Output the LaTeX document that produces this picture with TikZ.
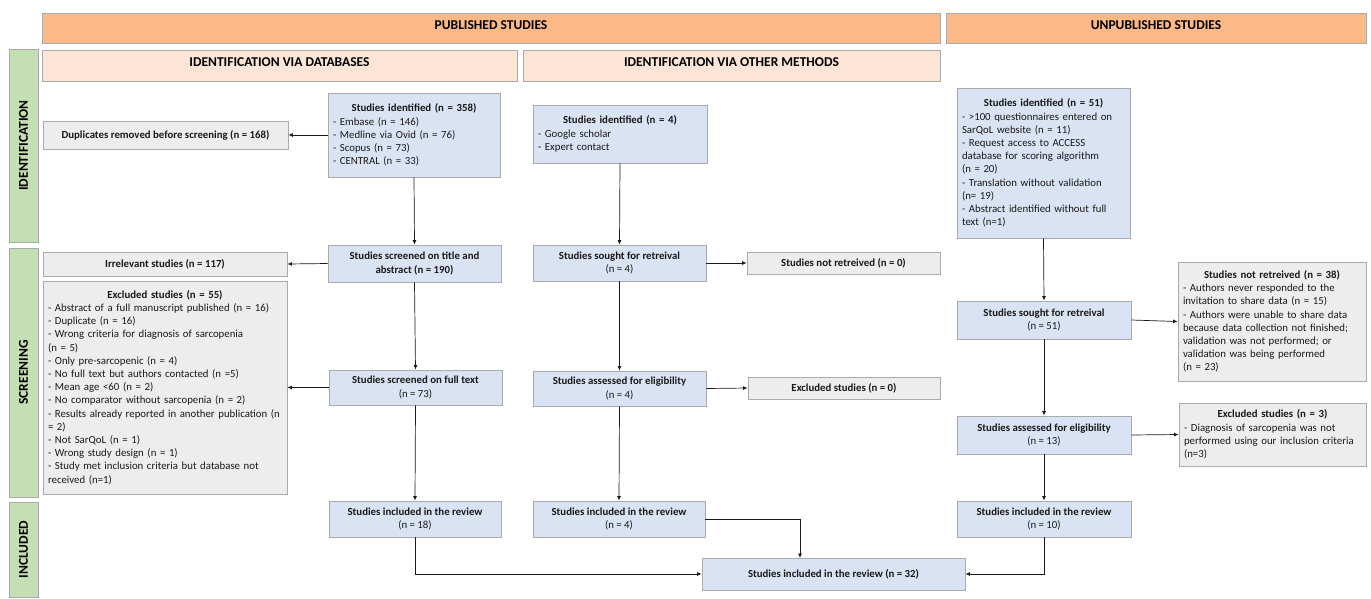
\documentclass[tikz,border=0pt]{standalone}
\usepackage{fontspec}
\setmainfont{Carlito}
\usepackage{tikz}
\usetikzlibrary{arrows.meta}
\definecolor{PrismaOrange}{RGB}{251,185,135}
\definecolor{PrismaPeach}{RGB}{252,228,214}
\definecolor{PrismaGreen}{RGB}{197,223,180}
\definecolor{PrismaBlue}{RGB}{218,227,243}
\definecolor{PrismaGrey}{RGB}{237,237,237}
\definecolor{PrismaRule}{RGB}{170,170,170}
\definecolor{PrismaInk}{RGB}{25,25,25}

\tikzset{
  basebox/.style={
    draw=PrismaRule,
    line width=0.9pt,
    inner xsep=5pt,
    inner ysep=2pt,
    text=PrismaInk,
    align=center,
    font=\fontsize{10.8}{13.2}\selectfont
  },
  boxsize/.style 2 args={minimum width=#1, minimum height=#2},
  studybox/.style={basebox, fill=PrismaBlue},
  dropbox/.style={basebox, fill=PrismaGrey},
  listbox/.style={align=left},
  capbar/.style={
    basebox,
    text=black,
    font=\fontsize{13.5}{15}\selectfont\bfseries
  },
  headbar/.style={capbar, fill=PrismaOrange, text depth=6pt},
  subheadbar/.style={capbar, fill=PrismaPeach, text depth=6pt},
  phasebar/.style={capbar, fill=PrismaGreen, rotate=90},
  flowarrow/.style={
    -{Latex[length=4.5pt,width=4pt]},
    line width=0.7pt,
    draw=PrismaInk
  }
}

\begin{document}
\begin{tikzpicture}[x=1pt,y=-1pt]
\useasboundingbox (0,0) rectangle (1371,598);

\node[headbar, boxsize={898pt}{30pt}] (pub) at (491,28) {PUBLISHED STUDIES};
\node[headbar, boxsize={420pt}{30pt}] (unpub) at (1156,28) {UNPUBLISHED STUDIES};
\node[subheadbar, boxsize={475pt}{31pt}] (viadb) at (279.5,65.5) {IDENTIFICATION VIA DATABASES};
\node[subheadbar, boxsize={417pt}{31pt}] (viaother) at (731.5,65.5) {IDENTIFICATION VIA OTHER METHODS};

\node[phasebar, boxsize={193pt}{29pt}] (phaseid) at (23.5,145.5) {IDENTIFICATION};
\node[phasebar, boxsize={249pt}{29pt}] (phasescr) at (23.5,372.5) {SCREENING};
\node[phasebar, boxsize={95pt}{29pt}] (phaseinc) at (23.5,549.5) {INCLUDED};

\node[studybox, listbox, boxsize={172pt}{84pt}, text width=162pt] (db1) at (414,135)
  {{\centering\bfseries Studies identified (n = 358)\par}- Embase (n = 146)\\- Medline via Ovid (n = 76)\\- Scopus (n = 73)\\- CENTRAL (n = 33)};
\node[dropbox, boxsize={245pt}{28pt}] (dup) at (165.5,135) {\textbf{Duplicates removed before screening (n = 168)}};
\node[studybox, boxsize={173pt}{37pt}] (db2) at (414.5,263.5) {\textbf{Studies screened on title and}\\\textbf{abstract (n = 190)}};
\node[dropbox, boxsize={244pt}{24pt}] (irrel) at (165,264) {\textbf{Irrelevant studies (n = 117)}};
\node[studybox, boxsize={173pt}{35pt}] (db3) at (415.5,387.5) {\textbf{Studies screened on full text}\\(n = 73)};
\node[dropbox, listbox, boxsize={244pt}{213pt}, text width=234pt] (excl55) at (165,387.5)
  {{\centering\bfseries Excluded studies (n = 55)\par}- Abstract of a full manuscript published (n = 16)\\- Duplicate (n = 16)\\- Wrong criteria for diagnosis of sarcopenia\\(n = 5)\\- Only pre-sarcopenic (n = 4)\\- No full text but authors contacted (n =5)\\- Mean age <60 (n = 2)\\- No comparator without sarcopenia (n = 2)\\- Results already reported in another publication (n\\= 2)\\- Not SarQoL (n = 1)\\- Wrong study design (n = 1)\\- Study met inclusion criteria but database not\\received (n=1)};
\node[studybox, boxsize={172pt}{36pt}] (db4) at (415,519) {\textbf{Studies included in the review}\\(n = 18)};

\node[studybox, listbox, boxsize={174pt}{58pt}, text width=164pt] (ot1) at (620,134)
  {{\centering\bfseries Studies identified (n = 4)\par}- Google scholar\\- Expert contact};
\node[studybox, boxsize={173pt}{36pt}] (ot2) at (619.5,263) {\textbf{Studies sought for retreival}\\(n = 4)};
\node[dropbox, boxsize={193pt}{22pt}] (notret0) at (843.5,263) {\textbf{Studies not retreived (n = 0)}};
\node[studybox, boxsize={173pt}{35pt}] (ot3) at (619.5,388.5) {\textbf{Studies assessed for eligibility}\\(n = 4)};
\node[dropbox, boxsize={192pt}{22pt}] (excl0) at (844,388) {\textbf{Excluded studies (n = 0)}};
\node[studybox, boxsize={172pt}{36pt}] (ot4) at (619,519) {\textbf{Studies included in the review}\\(n = 4)};

\node[studybox, listbox, boxsize={173pt}{150pt}, text width=163pt] (un1) at (1043.5,163)
  {{\centering\bfseries Studies identified (n = 51)\par}- >100 questionnaires entered on\\SarQoL website (n = 11)\\- Request access to ACCESS\\database for scoring algorithm\\(n = 20)\\- Translation without validation\\(n= 19)\\- Abstract identified without full\\text (n=1)};
\node[studybox, boxsize={174pt}{38pt}] (un2) at (1044,320) {\textbf{Studies sought for retreival}\\(n = 51)};
\node[dropbox, listbox, boxsize={188pt}{119pt}, text width=178pt] (notret38) at (1272,321.5)
  {{\centering\bfseries Studies not retreived (n = 38)\par}- Authors never responded to the\\invitation to share data (n = 15)\\- Authors were unable to share data\\because data collection not finished;\\validation was not performed; or\\validation was being performed\\(n = 23)};
\node[studybox, boxsize={174pt}{38pt}] (un3) at (1044,435) {\textbf{Studies assessed for eligibility}\\(n = 13)};
\node[dropbox, listbox, boxsize={187pt}{63pt}, text width=177pt] (excl3) at (1272.5,434.5)
  {{\centering\bfseries Excluded studies (n = 3)\par}- Diagnosis of sarcopenia was not\\performed using our inclusion criteria\\(n=3)};
\node[studybox, boxsize={174pt}{36pt}] (un4) at (1044,519) {\textbf{Studies included in the review}\\(n = 10)};

\node[studybox, boxsize={263pt}{32pt}] (total) at (833.5,574) {\textbf{Studies included in the review (n = 32)}};
\coordinate (mergeot) at (800,558);

\draw[flowarrow] (db1.west) -- (dup.east);
\draw[flowarrow] (db1.south) -- (db2.north);
\draw[flowarrow] (db2.west) -- (irrel.east);
\draw[flowarrow] (db2.south) -- (db3.north);
\draw[flowarrow] (db3.west) -- (excl55.east);
\draw[flowarrow] (db3.south) -- (db4.north);
\draw[flowarrow] (db4.south) |- (total.west);

\draw[flowarrow] (ot1.south) -- (ot2.north);
\draw[flowarrow] (ot2.east) -- (notret0.west);
\draw[flowarrow] (ot2.south) -- (ot3.north);
\draw[flowarrow] (ot3.east) -- (excl0.west);
\draw[flowarrow] (ot3.south) -- (ot4.north);
\draw[flowarrow] (ot4.east) -| (mergeot);

\draw[flowarrow] (un1.south) -- (un2.north);
\draw[flowarrow] (un2.east) -- (notret38.west);
\draw[flowarrow] (un2.south) -- (un3.north);
\draw[flowarrow] (un3.east) -- (excl3.west);
\draw[flowarrow] (un3.south) -- (un4.north);
\draw[flowarrow] (un4.south) |- (total.east);
\end{tikzpicture}
\end{document}
